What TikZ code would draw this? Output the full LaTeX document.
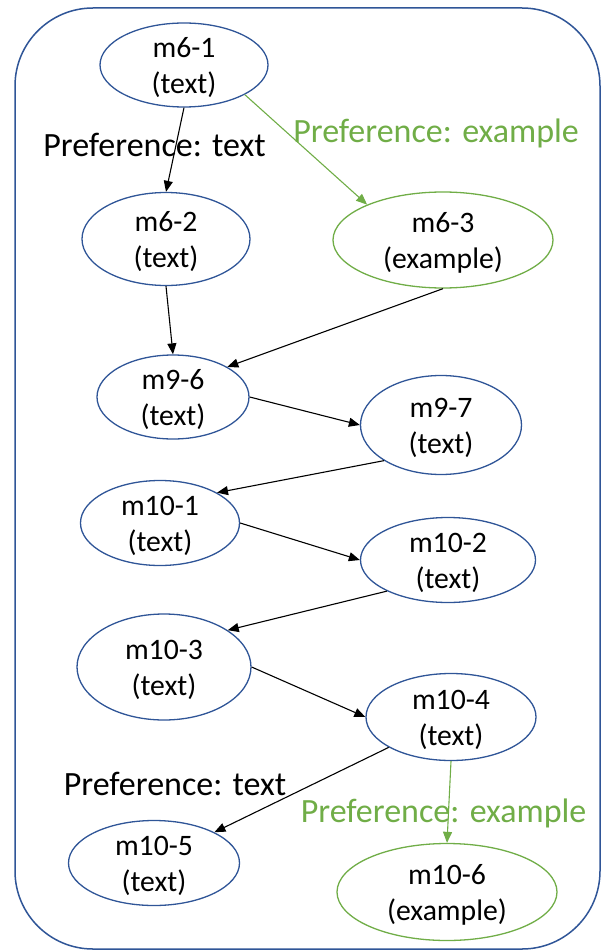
\documentclass[tikz,border=0pt]{standalone}
\usepackage{fontspec}
\setmainfont{Carlito}
\usetikzlibrary{shapes.geometric,arrows.meta}
\definecolor{nblue}{HTML}{2F5597}
\definecolor{ngreen}{HTML}{70AD47}
\begin{document}
\begin{tikzpicture}[x=1pt,y=-1pt,
  ell/.style={ellipse, draw=nblue, line width=1.3pt, inner sep=0pt},
  gell/.style={ell, draw=ngreen},
  txt/.style={align=center, inner sep=0pt, font=\fontsize{29.7}{36}\selectfont},
  arr/.style={line width=1.1pt, -{Triangle[length=11pt,width=9pt]}},
  garr/.style={arr, draw=ngreen},
  lab/.style={anchor=base, inner sep=0pt, font=\fontsize{34}{40}\selectfont},
  frame/.style={draw=nblue, line width=1.5pt, rounded corners=78pt}]
\useasboundingbox (0,0) rectangle (602,952);
\draw[frame] (15,8) rectangle (600,949);

\node[ell, minimum width=168pt, minimum height=84pt] (m61) at (184,65) {};
\node[ell, minimum width=168pt, minimum height=93pt] (m62) at (166,239) {};
\node[gell, minimum width=220pt, minimum height=96pt] (m63) at (443,240) {};
\node[ell, minimum width=152pt, minimum height=84pt] (m96) at (173,397) {};
\node[ell, minimum width=161pt, minimum height=99pt] (m97) at (441,425) {};
\node[ell, minimum width=159pt, minimum height=85pt] (m101) at (160,523) {};
\node[ell, minimum width=175pt, minimum height=85pt] (m102) at (448,560) {};
\node[ell, minimum width=174pt, minimum height=106pt] (m103) at (164,667) {};
\node[ell, minimum width=170pt, minimum height=87pt] (m104) at (451,717) {};
\node[ell, minimum width=171pt, minimum height=85pt] (m105) at (154,863) {};
\node[gell, minimum width=220pt, minimum height=97pt] (m106) at (447,892) {};

\node[txt] (t61) at ([yshift=-3pt]m61.center) {m6-1\\(text)};
\node[txt] (t62) at ([yshift=-3pt]m62.center) {m6-2\\(text)};
\node[txt] (t63) at ([yshift=-3pt]m63.center) {m6-3\\(example)};
\node[txt] (t96) at ([yshift=-3pt]m96.center) {m9-6\\(text)};
\node[txt] (t97) at ([yshift=-3pt]m97.center) {m9-7\\(text)};
\node[txt] (t101) at ([yshift=-3pt]m101.center) {m10-1\\(text)};
\node[txt] (t102) at ([yshift=-3pt]m102.center) {m10-2\\(text)};
\node[txt] (t103) at ([yshift=-3pt]m103.center) {m10-3\\(text)};
\node[txt] (t104) at ([yshift=-3pt]m104.center) {m10-4\\(text)};
\node[txt] (t105) at ([yshift=-3pt]m105.center) {m10-5\\(text)};
\node[txt] (t106) at ([yshift=-3pt]m106.center) {m10-6\\(example)};

\node[lab] (l1) at (154.5,157) {Preference: text};
\node[lab, text=ngreen] (l2) at (436,143) {Preference: example};
\node[lab] (l3) at (175,795) {Preference: text};
\node[lab, text=ngreen] (l4) at (443.5,822) {Preference: example};

\draw[arr] (m61.south) -- (m62.north);
\draw[garr] (m61.-26) -- (m63.155);
\draw[arr] (m62.south) -- (m96.north);
\draw[arr] (m63.south) -- (m96.29);
\draw[arr] (m96.east) -- (m97.west);
\draw[arr] (m97.212) -- (m101.28);
\draw[arr] (m101.east) -- (m102.west);
\draw[arr] (m102.207) -- (m103.30);
\draw[arr] (m103.east) -- (m104.west);
\draw[arr] (m104.206) -- (m105.27);
\draw[garr] (m104.south) -- (m106.north);
\end{tikzpicture}
\end{document}
